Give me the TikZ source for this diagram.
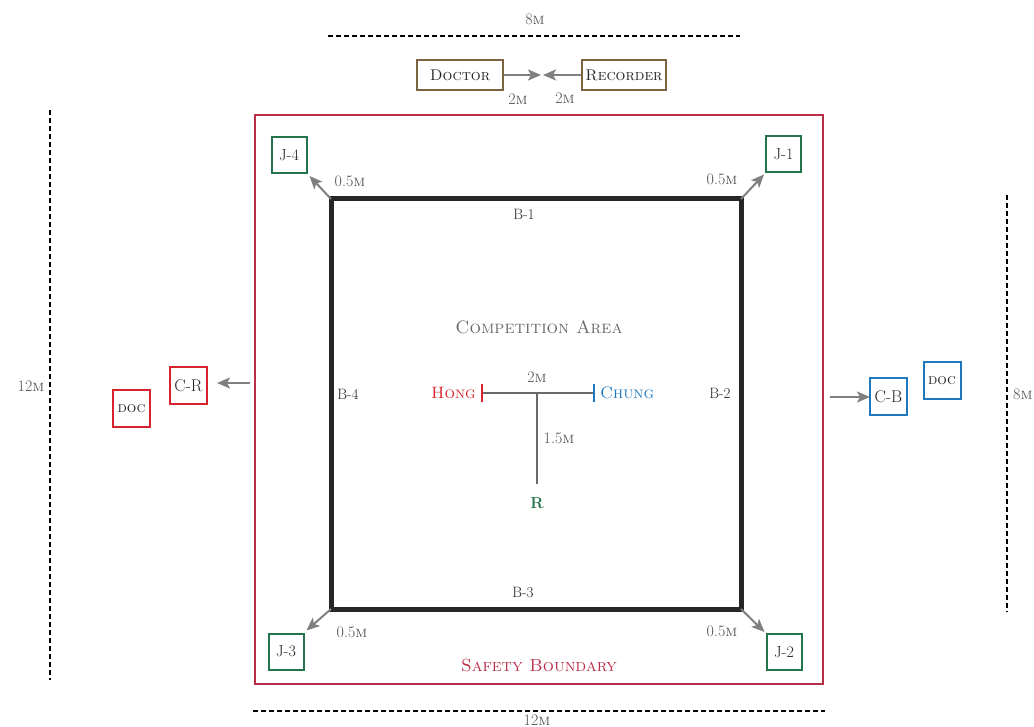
\documentclass[tikz,border=0pt]{standalone}
\usetikzlibrary{arrows.meta}
\definecolor{sred}{RGB}{185,45,70}
\definecolor{bred}{RGB}{215,35,45}
\definecolor{jgreen}{RGB}{35,115,75}
\definecolor{cblue}{RGB}{30,120,190}
\definecolor{brownb}{RGB}{125,100,65}
\definecolor{agray}{RGB}{128,128,128}
\definecolor{tgray}{RGB}{105,105,105}
\definecolor{txt}{RGB}{35,35,35}
\definecolor{dgray}{RGB}{80,80,80}
\newcommand\fs[1]{\fontsize{#1}{#1}\selectfont}
\begin{document}
\begin{tikzpicture}[x=1pt,y=-1pt,
  every node/.style={font=\fs{15}, text=txt, inner sep=0pt},
  lbl/.style={font=\fs{16}, text=dgray},
  blbl/.style={font=\fs{15}},
  jbox/.style={draw=jgreen, line width=2pt, minimum width=35pt, minimum height=36pt, font=\fs{16}},
  pbox/.style={draw=brownb, line width=2pt, minimum height=30pt, font=\fs{15.5}},
  crbox/.style={draw=bred, line width=2pt, minimum width=37pt, minimum height=37pt, font=\fs{17}},
  cbbox/.style={draw=cblue, line width=2pt, minimum width=37pt, minimum height=37pt, font=\fs{17}},
  arr/.style={draw=agray, line width=2pt, -{Stealth[length=13pt,width=11pt,inset=3pt]}},
  dim/.style={draw=black, line width=1.5pt, dash pattern=on 5pt off 3pt},
  smalldoc/.style={font=\fs{15}}
]
\useasboundingbox (0,0) rectangle (1034,727);
% dimension lines
\coordinate (t1) at (328,36); \coordinate (t2) at (740,36);
\draw[dim] (t1) -- (t2);
\node[lbl] (l8top) at (535,19) {8\textsc{m}};
\coordinate (b1) at (253,711); \coordinate (b2) at (825,711);
\draw[dim] (b1) -- (b2);
\node[lbl] (l12bot) at (537,720) {12\textsc{m}};
\coordinate (lv1) at (50,110); \coordinate (lv2) at (50,680);
\draw[dim] (lv1) -- (lv2);
\node[lbl] (l12left) at (31,386) {12\textsc{m}};
\coordinate (rv1) at (1007,195); \coordinate (rv2) at (1007,612);
\draw[dim] (rv1) -- (rv2);
\node[lbl, anchor=west] (l8right) at (1013,394) {8\textsc{m}};
% doctor / recorder
\node[pbox, minimum width=86pt] (doctor) at (460,75) {\textsc{Doctor}};
\node[pbox, minimum width=84pt] (recorder) at (624,75) {\textsc{Recorder}};
\coordinate (meet) at (542,75);
\draw[arr] (doctor.east) -- ([xshift=-1pt]meet);
\draw[arr] (recorder.west) -- ([xshift=1pt]meet);
\node[lbl] (d2m) at (518,99) {2\textsc{m}};
\node[lbl] (r2m) at (565,98) {2\textsc{m}};
% safety boundary
\node[draw=sred, line width=2pt, minimum width=568pt, minimum height=569pt] (safety) at (539,399.5) {};
\node[font=\fs{17.5}, text=sred] (sb) at (539,666) {\textsc{Safety Boundary}};
% competition area square
\node[draw=black!85, line width=5pt, outer sep=0pt, minimum width=410pt, minimum height=410pt] (area) at (536,404) {};
\node[blbl] (B1) at (524,214) {B-1};
\node[blbl] (B3) at (523,592) {B-3};
\node[blbl] (B4) at (348,394) {B-4};
\node[blbl] (B2) at (720,393) {B-2};
\node[font=\fs{18}, text=tgray] (ca) at (539,327) {\textsc{Competition Area}};
% judges
\node[jbox] (J4) at (289,155) {J-4};
\node[jbox] (J1) at (783.5,154.5) {J-1};
\node[jbox] (J3) at (286,651.5) {J-3};
\node[jbox] (J2) at (784,652) {J-2};
\draw[arr] (area.north west) -- ([shift={(2pt,-2pt)}]J4.south east);
\draw[arr] (area.north east) -- ([shift={(-1pt,-1pt)}]J1.south west);
\draw[arr] (area.south west) -- ([shift={(2pt,2pt)}]J3.north east);
\draw[arr] (area.south east) -- ([shift={(-1pt,1pt)}]J2.north west);
\node[lbl] (l4) at (350,181) {0.5\textsc{m}};
\node[lbl] (l1) at (722,179) {0.5\textsc{m}};
\node[lbl] (l3) at (352,632) {0.5\textsc{m}};
\node[lbl] (l2) at (722,631) {0.5\textsc{m}};
% coaches
\node[crbox] (CR) at (188.5,385.5) {C-R};
\node[crbox, smalldoc] (docR) at (131.5,408.5) {\textsc{doc}};
\coordinate (crs) at (250,383);
\draw[arr] (crs) -- ([xshift=9pt]crs -| CR.east);
\node[cbbox] (CB) at (888.5,396.5) {C-B};
\node[cbbox, smalldoc] (docB) at (942,380.5) {\textsc{doc}};
\coordinate (cbs) at (830,397);
\draw[arr] (cbs) -- ([xshift=1pt]cbs -| CB.west);
% T-shape
\coordinate (ht) at (482,393);
\coordinate (ct) at (594,393);
\coordinate (mid) at (537,393);
\coordinate (rp) at (537,484);
\draw[draw=tgray, line width=1.5pt] (ht) -- (ct);
\draw[draw=tgray, line width=1.5pt] (mid) -- (rp);
\draw[draw=bred, line width=2pt] ([yshift=-9pt]ht) -- ([yshift=9pt]ht);
\draw[draw=cblue, line width=2pt] ([yshift=-9pt]ct) -- ([yshift=9pt]ct);
\node[font=\fs{16.5}, text=bred, anchor=east] (hong) at (476,393) {\textsc{Hong}};
\node[font=\fs{16.5}, text=cblue, anchor=west] (chung) at (600,393) {\textsc{Chung}};
\node[lbl] (m2) at (537,377) {2\textsc{m}};
\node[lbl] (m15) at (559,438) {1.5\textsc{m}};
\node[font=\fs{16}\bfseries, text=jgreen] (R) at (537,503) {R};
\end{tikzpicture}
\end{document}
